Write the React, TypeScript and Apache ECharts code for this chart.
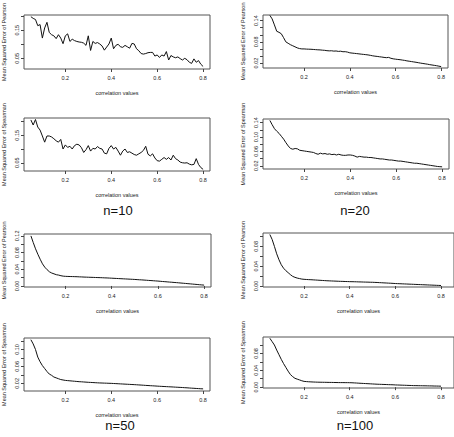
import React, { useEffect, useRef } from "react";
import * as echarts from "echarts";

// correlation values on the x axis
const corrValues = [
  0.05, 0.06, 0.07, 0.08, 0.09, 0.1, 0.11, 0.12, 0.13, 0.14,
  0.15, 0.16, 0.17, 0.18, 0.19, 0.2, 0.21, 0.22, 0.23, 0.24,
  0.25, 0.26, 0.27, 0.28, 0.29, 0.3, 0.31, 0.32, 0.33, 0.34,
  0.35, 0.36, 0.37, 0.38, 0.39, 0.4, 0.41, 0.42, 0.43, 0.44,
  0.45, 0.46, 0.47, 0.48, 0.49, 0.5, 0.51, 0.52, 0.53, 0.54,
  0.55, 0.56, 0.57, 0.58, 0.59, 0.6, 0.61, 0.62, 0.63, 0.64,
  0.65, 0.66, 0.67, 0.68, 0.69, 0.7, 0.71, 0.72, 0.73, 0.74,
  0.75, 0.76, 0.77, 0.78, 0.79, 0.8,
];

const pearsonN10 = [
  0.198, 0.192, 0.188, 0.166, 0.17, 0.122, 0.158, 0.178, 0.142, 0.134,
  0.13, 0.12, 0.134, 0.122, 0.102, 0.13, 0.137, 0.11, 0.118, 0.113,
  0.11, 0.108, 0.107, 0.104, 0.096, 0.13, 0.078, 0.11, 0.103, 0.106,
  0.101, 0.094, 0.079, 0.09, 0.101, 0.122, 0.084, 0.096, 0.1, 0.091,
  0.089, 0.096, 0.091, 0.086, 0.103, 0.101, 0.084, 0.077, 0.067, 0.065,
  0.067, 0.07, 0.071, 0.071, 0.058, 0.062, 0.053, 0.062, 0.058, 0.074,
  0.044, 0.06, 0.055, 0.052, 0.055, 0.049, 0.044, 0.05, 0.045, 0.036,
  0.032, 0.048, 0.036, 0.042, 0.029, 0.021,
];

const spearmanN10 = [
  0.206, 0.1875, 0.2075, 0.18, 0.169, 0.1475, 0.125, 0.1475, 0.1475, 0.144,
  0.1375, 0.13, 0.125, 0.135, 0.1, 0.115, 0.106, 0.11, 0.1, 0.1125,
  0.1175, 0.115, 0.105, 0.0875, 0.0975, 0.1125, 0.0925, 0.1025, 0.1, 0.109,
  0.1025, 0.1, 0.085, 0.0825, 0.1025, 0.1125, 0.1, 0.106, 0.0925, 0.0775,
  0.0925, 0.1, 0.0875, 0.09, 0.085, 0.08, 0.0775, 0.0825, 0.0875, 0.095,
  0.11, 0.081, 0.075, 0.0825, 0.0675, 0.0575, 0.056, 0.0625, 0.069, 0.0625,
  0.069, 0.06, 0.0775, 0.065, 0.06, 0.0525, 0.05, 0.049, 0.05, 0.045,
  0.0425, 0.044, 0.065, 0.044, 0.0325, 0.026,
];

const pearsonN20 = [
  0.155, 0.145, 0.128, 0.11, 0.107, 0.103, 0.092, 0.08, 0.076, 0.072,
  0.069, 0.066, 0.063, 0.061, 0.06, 0.06, 0.0595, 0.0592, 0.059, 0.0585,
  0.058, 0.0575, 0.0572, 0.0565, 0.056, 0.055, 0.0545, 0.0548, 0.0538, 0.0542,
  0.053, 0.0535, 0.052, 0.0522, 0.051, 0.049, 0.0482, 0.0475, 0.0468, 0.046,
  0.0452, 0.0445, 0.0438, 0.043, 0.0418, 0.0405, 0.0395, 0.0388, 0.0378, 0.037,
  0.036, 0.0352, 0.036, 0.0335, 0.032, 0.031, 0.0302, 0.0295, 0.0285, 0.0275,
  0.0262, 0.0252, 0.0242, 0.0232, 0.0222, 0.021, 0.0198, 0.0188, 0.0178, 0.0168,
  0.0155, 0.0145, 0.0135, 0.0125, 0.0112, 0.01,
];

const spearmanN20 = [
  0.146, 0.134, 0.123, 0.116, 0.11, 0.102, 0.094, 0.084, 0.075, 0.068,
  0.066, 0.068, 0.067, 0.063, 0.062, 0.061, 0.06, 0.059, 0.058, 0.057,
  0.054, 0.052, 0.055, 0.053, 0.054, 0.052, 0.053, 0.051, 0.052, 0.05,
  0.052, 0.05, 0.049, 0.049, 0.05, 0.05, 0.049, 0.047, 0.044, 0.046,
  0.045, 0.044, 0.044, 0.043, 0.043, 0.042, 0.041, 0.04, 0.039, 0.039,
  0.038, 0.037, 0.036, 0.036, 0.035, 0.034, 0.033, 0.033, 0.032, 0.031,
  0.03, 0.029, 0.028, 0.027, 0.027, 0.026, 0.025, 0.024, 0.023, 0.022,
  0.021, 0.02, 0.019, 0.018, 0.0175, 0.017,
];

const pearsonN50 = [
  0.12, 0.104, 0.089, 0.076, 0.064, 0.053, 0.045, 0.039, 0.034, 0.031,
  0.029, 0.027, 0.026, 0.0245, 0.0235, 0.023, 0.0228, 0.0226, 0.0225, 0.0223,
  0.0221, 0.0218, 0.0216, 0.0213, 0.0211, 0.0209, 0.0207, 0.0205, 0.0203, 0.0201,
  0.0199, 0.0197, 0.0194, 0.0192, 0.0189, 0.0186, 0.0183, 0.018, 0.0177, 0.0174,
  0.0171, 0.0168, 0.0165, 0.0162, 0.0159, 0.0156, 0.0152, 0.0148, 0.0145, 0.0141,
  0.0137, 0.0133, 0.0129, 0.0125, 0.0121, 0.0117, 0.0112, 0.0107, 0.0103, 0.0098,
  0.0093, 0.0089, 0.0084, 0.008, 0.0075, 0.007, 0.0065, 0.006, 0.0055, 0.005,
  0.0045, 0.004, 0.0035, 0.003, 0.0025, 0.002,
];

const pearsonN100 = [
  0.104, 0.094, 0.08, 0.065, 0.053, 0.043, 0.036, 0.031, 0.027, 0.023,
  0.0195, 0.0175, 0.016, 0.015, 0.014, 0.0135, 0.0132, 0.0129, 0.0127, 0.0124,
  0.0121, 0.0118, 0.0115, 0.0112, 0.0109, 0.0106, 0.0104, 0.0102, 0.01, 0.0098,
  0.0096, 0.0094, 0.0093, 0.0091, 0.009, 0.0088, 0.0087, 0.0086, 0.0085, 0.0083,
  0.0082, 0.008, 0.0079, 0.0078, 0.0076, 0.0075, 0.0073, 0.0071, 0.0068, 0.0066,
  0.0063, 0.0061, 0.0058, 0.0056, 0.0053, 0.005, 0.0048, 0.0046, 0.0044, 0.0042,
  0.004, 0.0038, 0.0036, 0.0034, 0.0032, 0.003, 0.0028, 0.0026, 0.0024, 0.0022,
  0.002, 0.0018, 0.0016, 0.0014, 0.0012, 0.001,
];

const spearmanN50 = [
  0.123, 0.113, 0.1, 0.082, 0.071, 0.062, 0.055, 0.048, 0.042, 0.039,
  0.035, 0.033, 0.031, 0.029, 0.028, 0.027, 0.0265, 0.026, 0.0255, 0.025,
  0.0245, 0.024, 0.0237, 0.0233, 0.0229, 0.0225, 0.0222, 0.0219, 0.0216, 0.0213,
  0.021, 0.0208, 0.0206, 0.0204, 0.0202, 0.02, 0.0197, 0.0194, 0.0191, 0.0188,
  0.0185, 0.0182, 0.0179, 0.0176, 0.0173, 0.017, 0.0167, 0.0163, 0.016, 0.0156,
  0.0152, 0.0149, 0.0145, 0.0142, 0.0139, 0.0135, 0.0132, 0.0129, 0.0126, 0.0123,
  0.012, 0.0117, 0.0114, 0.0111, 0.0108, 0.0105, 0.0102, 0.0098, 0.0095, 0.0091,
  0.0087, 0.0084, 0.008, 0.0077, 0.0073, 0.007,
];

const spearmanN100 = [
  0.116, 0.108, 0.1, 0.088, 0.077, 0.066, 0.056, 0.047, 0.038, 0.03,
  0.025, 0.021, 0.019, 0.0172, 0.0152, 0.0137, 0.0132, 0.0128, 0.0125, 0.0122,
  0.012, 0.0118, 0.0117, 0.0116, 0.0115, 0.0114, 0.0113, 0.0112, 0.0111, 0.011,
  0.0109, 0.0108, 0.0108, 0.0107, 0.0107, 0.0106, 0.0104, 0.0101, 0.0098, 0.0094,
  0.0091, 0.0088, 0.0085, 0.0082, 0.0079, 0.0076, 0.0073, 0.007, 0.0068, 0.0066,
  0.0064, 0.0062, 0.006, 0.0058, 0.0056, 0.0053, 0.0051, 0.0049, 0.0047, 0.0045,
  0.0043, 0.0041, 0.0039, 0.0037, 0.0036, 0.0035, 0.0034, 0.0033, 0.0032, 0.0031,
  0.003, 0.0029, 0.0027, 0.0026, 0.0025, 0.0023,
];

// tick labels
const xTickValues = [0.2, 0.4, 0.6, 0.8];
const yTicksP10 = [0.05, 0.1, 0.15, 0.2];
const yLabelsP10 = [0.05, 0.15];
const yTicksS10 = [0.05, 0.1, 0.15, 0.2];
const yLabelsS10 = [0.05, 0.15];
const yTicksP20 = [0.02, 0.04, 0.06, 0.08, 0.1, 0.12, 0.14];
const yLabelsP20 = [0.02, 0.08, 0.14];
const yTicksS20 = [0.02, 0.04, 0.06, 0.08, 0.1, 0.12, 0.14];
const yLabelsS20 = [0.02, 0.06, 0.1, 0.14];
const yTicksP50 = [0, 0.02, 0.04, 0.06, 0.08, 0.1, 0.12];
const yLabelsP50 = [0, 0.04, 0.08, 0.12];
const yTicksP100 = [0, 0.02, 0.04, 0.06, 0.08, 0.1];
const yLabelsP100 = [0, 0.04, 0.08];
const yTicksS50 = [0.02, 0.04, 0.06, 0.08, 0.1, 0.12];
const yLabelsS50 = [0.02, 0.06, 0.1];
const yTicksS100 = [0, 0.02, 0.04, 0.06, 0.08, 0.1];
const yLabelsS100 = [0, 0.04, 0.08];

const sampleLabels = ["n=10", "n=20", "n=50", "n=100"];
const xTitle = "correlation values";
const yTitlePearson = "Mean Squared Error of Pearson";
const yTitleSpearman = "Mean Squared Error of Spearman";

const FONT = "'Liberation Sans', Arial, sans-serif";

type Panel = {
  values: number[];
  yTitle: string;
  left: number;
  top: number;
  width: number;
  height: number;
  yMin: number;
  yMax: number;
  xMax: number;
  yTicks: number[];
  yLabels: number[];
};

const panels: Panel[] = [
  { values: pearsonN10, yTitle: yTitlePearson, left: 23, top: 15, width: 187, height: 54, yMin: 0.012, yMax: 0.204, xMax: 0.83, yTicks: yTicksP10, yLabels: yLabelsP10 },
  { values: pearsonN20, yTitle: yTitlePearson, left: 263, top: 15, width: 185, height: 53, yMin: 0.006, yMax: 0.156, xMax: 0.83, yTicks: yTicksP20, yLabels: yLabelsP20 },
  { values: spearmanN10, yTitle: yTitleSpearman, left: 23, top: 118, width: 187, height: 53, yMin: 0.02, yMax: 0.213, xMax: 0.83, yTicks: yTicksS10, yLabels: yLabelsS10 },
  { values: spearmanN20, yTitle: yTitleSpearman, left: 263, top: 119, width: 186, height: 50, yMin: 0.011, yMax: 0.15, xMax: 0.83, yTicks: yTicksS20, yLabels: yLabelsS20 },
  { values: pearsonN50, yTitle: yTitlePearson, left: 23, top: 234, width: 188, height: 53, yMin: -0.0025, yMax: 0.1245, xMax: 0.83, yTicks: yTicksP50, yLabels: yLabelsP50 },
  { values: pearsonN100, yTitle: yTitlePearson, left: 263, top: 233, width: 193, height: 54, yMin: -0.002, yMax: 0.107, xMax: 0.857, yTicks: yTicksP100, yLabels: yLabelsP100 },
  { values: spearmanN50, yTitle: yTitleSpearman, left: 23, top: 338, width: 187, height: 53, yMin: 0.002, yMax: 0.127, xMax: 0.83, yTicks: yTicksS50, yLabels: yLabelsS50 },
  { values: spearmanN100, yTitle: yTitleSpearman, left: 263, top: 337, width: 193, height: 51, yMin: -0.002, yMax: 0.119, xMax: 0.857, yTicks: yTicksS100, yLabels: yLabelsS100 },
];

const labelPositions = [
  [118, 210],
  [355, 210],
  [120, 425],
  [355, 425],
];

export default function App() {
  const ref = useRef<HTMLDivElement>(null);

  useEffect(() => {
    if (!ref.current) return;
    const chart = echarts.init(ref.current, undefined, { renderer: "svg" });

    const smallText = { fontSize: 5.5, color: "#222", fontFamily: FONT };

    const option: any = {
      animation: false,
      backgroundColor: "#ffffff",
      grid: panels.map((p) => ({
        left: p.left,
        top: p.top,
        width: p.width,
        height: p.height,
        show: true,
        borderColor: "#555",
        borderWidth: 1,
        backgroundColor: "transparent",
        containLabel: false,
      })),
      xAxis: panels.map((p, i) => ({
        gridIndex: i,
        type: "value",
        min: 0.02,
        max: p.xMax,
        axisLine: { show: false },
        splitLine: { show: false },
        axisTick: {
          show: true,
          customValues: xTickValues,
          length: 3,
          lineStyle: { color: "#444", width: 1 },
        },
        axisLabel: {
          customValues: xTickValues,
          formatter: (v: number) => v.toFixed(1),
          margin: 6,
          ...smallText,
        },
        name: xTitle,
        nameLocation: "middle",
        nameGap: 21,
        nameTextStyle: { ...smallText },
      })),
      yAxis: panels.map((p, i) => ({
        gridIndex: i,
        type: "value",
        min: p.yMin,
        max: p.yMax,
        axisLine: { show: false },
        splitLine: { show: false },
        axisTick: {
          show: true,
          customValues: p.yTicks,
          length: 3,
          lineStyle: { color: "#444", width: 1 },
        },
        axisLabel: {
          customValues: p.yLabels,
          rotate: 90,
          formatter: (v: number) => v.toFixed(2),
          margin: 4,
          ...smallText,
        },
        name: p.yTitle,
        nameLocation: "middle",
        nameRotate: 90,
        nameGap: 17,
        nameTextStyle: { ...smallText },
      })),
      series: panels.map((p, i) => ({
        type: "line",
        xAxisIndex: i,
        yAxisIndex: i,
        data: p.values.map((v, k) => [corrValues[k], v]),
        showSymbol: false,
        symbol: "none",
        lineStyle: { color: "#111", width: 1 },
        silent: true,
      })),
      graphic: sampleLabels.map((t, i) => ({
        type: "text",
        x: labelPositions[i][0],
        y: labelPositions[i][1],
        style: {
          text: t,
          fontSize: 13,
          fontFamily: FONT,
          fill: "#111",
          align: "center",
          verticalAlign: "middle",
        },
      })),
    };

    chart.setOption(option);
    return () => chart.dispose();
  }, []);

  return (
    <div
      ref={ref}
      style={{ position: "fixed", left: 0, top: 0, width: 454, height: 437, overflow: "hidden" }}
    />
  );
}
